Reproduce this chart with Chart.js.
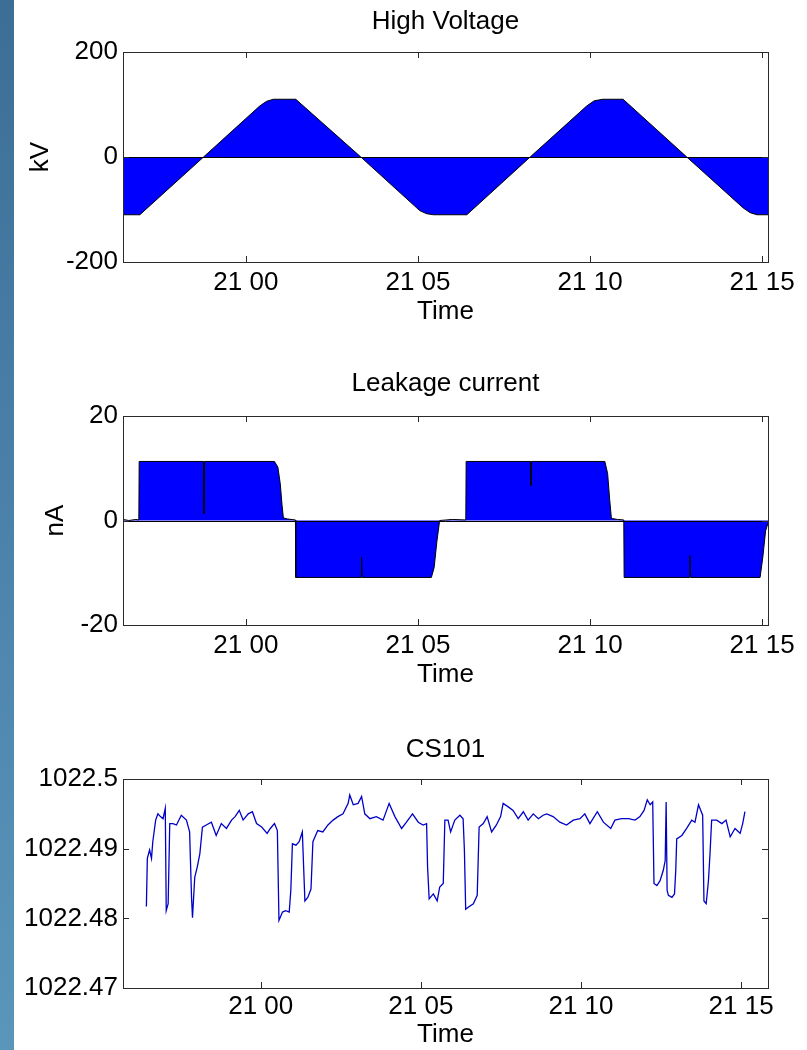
<!DOCTYPE html>
<html>
<head>
<meta charset="utf-8">
<script src="https://cdn.jsdelivr.net/npm/chart.js@4.4.1/dist/chart.umd.min.js"></script>
<style>
  html, body { margin: 0; padding: 0; background: #fff; }
  body { width: 807px; height: 1050px; position: relative; overflow: hidden; }
  .strip { position: absolute; left: 0; top: 0; width: 14px; height: 1050px; z-index: 2;
    background: linear-gradient(to bottom, #3d6e95 0%, #4a80a8 45%, #5a96ba 100%); }
  canvas { position: absolute; left: 0; }
</style>
</head>
<body>
<div class="strip"></div>
<canvas id="hv" width="807" height="340" style="top:0px"></canvas>
<canvas id="leak" width="807" height="360" style="top:340px"></canvas>
<canvas id="cs" width="807" height="350" style="top:700px"></canvas>
<script>
// time axis is minutes after 21:00
const xTickValues = [0, 5, 10, 15];
const xTickLabels = ["21 00", "21 05", "21 10", "21 15"];

// High Voltage (kV)
const hvTime = [-3.57, -3.08, -1.23, 0.40, 0.60, 0.80, 1.45, 3.34, 5.05, 5.25, 5.45, 6.42,
                8.26, 9.90, 10.12, 10.37, 10.96, 12.81, 14.45, 14.65, 14.85, 15.17];
const hvKV = [-110, -110, 0, 97, 106, 110, 110, 0, -102, -108, -110, -110,
              0, 97, 107, 110, 110, 0, -97, -106, -110, -110];
const hvTicks = [-200, 0, 200];

// Leakage current (nA)
const leakTime = [-3.57, -3.40, -3.20, -3.11, -3.10, -1.23, -1.22, -1.20, 0.83, 0.93,
                  1.00, 1.05, 1.09, 1.20, 1.44, 1.45, 3.35, 3.36, 3.38, 5.39,
                  5.47, 5.55, 5.63, 6.00, 6.39, 6.40, 8.27, 8.28, 8.30, 10.43,
                  10.51, 10.57, 10.62, 10.80, 10.98, 10.99, 12.89, 12.90, 12.92, 14.94,
                  15.02, 15.10, 15.17];
const leakNA = [0.2, 0.0, 0.2, 0.1, 11.3, 11.3, 1.3, 11.3, 11.3, 10.2,
                7.0, 3.0, 0.5, 0.3, 0.1, -10.9, -10.9, -7.0, -10.9, -10.9,
                -9.0, -4.0, 0.0, 0.2, 0.1, 11.3, 11.3, 6.7, 11.3, 11.3,
                9.0, 4.0, 0.4, 0.2, 0.1, -10.9, -10.9, -6.7, -10.9, -10.9,
                -7.0, -2.0, -0.5];
const leakTicks = [-20, 0, 20];

// CS101
const csTime = [
  -3.57, -3.54, -3.47, -3.41, -3.37, -3.28, -3.21, -3.13, -3.05, -2.98,
  -2.95, -2.89, -2.84, -2.74, -2.63, -2.48, -2.32, -2.22, -2.16, -2.13,
  -2.06, -1.98, -1.90, -1.82, -1.70, -1.54, -1.39, -1.23, -1.07, -0.91,
  -0.80, -0.67, -0.55, -0.39, -0.26, -0.13, 0.03, 0.20, 0.30, 0.43,
  0.52, 0.57, 0.68, 0.78, 0.89, 0.94, 0.99, 1.10, 1.20, 1.30,
  1.34, 1.38, 1.47, 1.57, 1.63, 1.78, 1.94, 2.10, 2.26, 2.41,
  2.57, 2.73, 2.78, 2.89, 3.04, 3.15, 3.25, 3.41, 3.61, 3.82,
  4.01, 4.19, 4.40, 4.55, 4.74, 4.92, 5.07, 5.18, 5.21, 5.26,
  5.39, 5.51, 5.59, 5.70, 5.75, 5.85, 5.93, 6.06, 6.22, 6.32,
  6.36, 6.40, 6.48, 6.64, 6.76, 6.82, 6.95, 7.07, 7.21, 7.36,
  7.49, 7.57, 7.73, 7.88, 8.04, 8.20, 8.35, 8.51, 8.67, 8.82,
  8.93, 9.13, 9.34, 9.55, 9.76, 9.97, 10.12, 10.28, 10.51, 10.70,
  10.93, 11.06, 11.27, 11.48, 11.69, 11.84, 11.97, 12.07, 12.16, 12.24,
  12.28, 12.37, 12.47, 12.57, 12.63, 12.66, 12.69, 12.73, 12.84, 12.92,
  12.96, 12.99, 13.15, 13.30, 13.46, 13.56, 13.67, 13.80, 13.84, 13.91,
  13.98, 14.03, 14.08, 14.24, 14.40, 14.53, 14.66, 14.81, 14.97, 15.05,
  15.12
];
const csValue = [
  1022.4817, 1022.4886, 1022.4898, 1022.4886, 1022.4910, 1022.4941, 1022.4950, 1022.4946, 1022.4943, 1022.4958,
  1022.4811, 1022.4821, 1022.4936, 1022.4936, 1022.4934, 1022.4948, 1022.4941, 1022.4924, 1022.4830, 1022.4801,
  1022.4859, 1022.4874, 1022.4893, 1022.4931, 1022.4934, 1022.4938, 1022.4919, 1022.4936, 1022.4929, 1022.4941,
  1022.4946, 1022.4955, 1022.4941, 1022.4950, 1022.4953, 1022.4936, 1022.4931, 1022.4922, 1022.4929, 1022.4936,
  1022.4926, 1022.4797, 1022.4809, 1022.4811, 1022.4809, 1022.4840, 1022.4907, 1022.4905, 1022.4910, 1022.4924,
  1022.4874, 1022.4825, 1022.4830, 1022.4842, 1022.4910, 1022.4926, 1022.4924, 1022.4934, 1022.4941, 1022.4946,
  1022.4950, 1022.4965, 1022.4977, 1022.4963, 1022.4965, 1022.4975, 1022.4950, 1022.4943, 1022.4946, 1022.4941,
  1022.4965, 1022.4946, 1022.4929, 1022.4938, 1022.4950, 1022.4938, 1022.4934, 1022.4936, 1022.4874, 1022.4828,
  1022.4835, 1022.4825, 1022.4845, 1022.4850, 1022.4941, 1022.4941, 1022.4924, 1022.4941, 1022.4948, 1022.4943,
  1022.4898, 1022.4813, 1022.4816, 1022.4821, 1022.4833, 1022.4931, 1022.4936, 1022.4946, 1022.4924, 1022.4934,
  1022.4946, 1022.4965, 1022.4960, 1022.4955, 1022.4943, 1022.4953, 1022.4941, 1022.4950, 1022.4943, 1022.4948,
  1022.4950, 1022.4946, 1022.4938, 1022.4934, 1022.4941, 1022.4943, 1022.4950, 1022.4936, 1022.4953, 1022.4938,
  1022.4929, 1022.4941, 1022.4943, 1022.4943, 1022.4941, 1022.4946, 1022.4955, 1022.4970, 1022.4963, 1022.4967,
  1022.4850, 1022.4847, 1022.4854, 1022.4869, 1022.4883, 1022.4967, 1022.4840, 1022.4833, 1022.4830, 1022.4835,
  1022.4869, 1022.4914, 1022.4919, 1022.4929, 1022.4941, 1022.4938, 1022.4963, 1022.4948, 1022.4825, 1022.4821,
  1022.4854, 1022.4893, 1022.4941, 1022.4941, 1022.4936, 1022.4941, 1022.4917, 1022.4929, 1022.4922, 1022.4936,
  1022.4953
];
const csTicks = [1022.47, 1022.48, 1022.49, 1022.5];
const csTickLabels = ["1022.47", "1022.48", "1022.49", "1022.5"];

const FONT = "'Liberation Sans', Arial, sans-serif";
const FS = 26;

// matlab style box: frame, inward ticks on all sides, area baseline
const matlabBox = {
  id: "matlabBox",
  afterDatasetsDraw(chart, args, opts) {
    const { ctx, chartArea: a, scales: { x, y } } = chart;
    ctx.save();
    ctx.lineWidth = 1;
    ctx.strokeStyle = "#000";
    if (opts.baseline) {
      const py = Math.round(y.getPixelForValue(0)) + 0.5;
      ctx.beginPath();
      ctx.moveTo(a.left, py);
      ctx.lineTo(a.right, py);
      ctx.stroke();
    }
    ctx.strokeStyle = "#2a2a2a";
    ctx.strokeRect(Math.round(a.left) + 0.5, Math.round(a.top) + 0.5, Math.round(a.width), Math.round(a.height));
    const len = 6;
    ctx.beginPath();
    x.ticks.forEach(t => {
      const px = Math.round(x.getPixelForValue(t.value)) + 0.5;
      ctx.moveTo(px, a.top); ctx.lineTo(px, a.top + len);
      ctx.moveTo(px, a.bottom); ctx.lineTo(px, a.bottom - len);
    });
    y.ticks.forEach(t => {
      const py = Math.round(y.getPixelForValue(t.value)) + 0.5;
      ctx.moveTo(a.left, py); ctx.lineTo(a.left + len, py);
      ctx.moveTo(a.right, py); ctx.lineTo(a.right - len, py);
    });
    ctx.stroke();
    ctx.restore();
  }
};

function makeChart(id, o) {
  const points = o.xs.map((t, i) => ({ x: t, y: o.ys[i] }));
  return new Chart(document.getElementById(id), {
    type: "line",
    data: {
      datasets: [{
        data: points,
        borderColor: o.line,
        borderWidth: o.lineWidth || 1,
        backgroundColor: o.fill || "transparent",
        fill: o.fill ? "origin" : false,
        pointRadius: 0,
        tension: 0
      }]
    },
    options: {
      responsive: false,
      animation: false,
      events: [],
      layout: { padding: { left: 0, right: 39, top: 0, bottom: 0 } },
      plugins: {
        legend: { display: false },
        tooltip: { enabled: false },
        title: {
          display: true, text: o.title, color: "#000", fullSize: false,
          font: { family: FONT, size: FS, weight: "normal" },
          padding: o.titlePad
        },
        matlabBox: { baseline: !!o.fill }
      },
      scales: {
        x: {
          type: "linear", min: o.xMin, max: o.xMax,
          afterBuildTicks: s => { s.ticks = xTickValues.map(v => ({ value: v })); },
          afterFit: s => { s.height = o.xHeight; },
          grid: { display: false, drawTicks: false },
          border: { display: false },
          ticks: {
            color: "#000", padding: o.xTickPad, maxRotation: 0,
            font: { family: FONT, size: FS },
            callback: v => xTickLabels[xTickValues.indexOf(v)]
          },
          title: {
            display: true, text: "Time", color: "#000",
            font: { family: FONT, size: FS },
            padding: { top: 0, bottom: o.xTitlePad }
          }
        },
        y: {
          type: "linear", min: o.yMin, max: o.yMax,
          afterBuildTicks: s => { s.ticks = o.yTicks.map(v => ({ value: v })); },
          afterFit: s => { s.width = 123; },
          grid: { display: false, drawTicks: false },
          border: { display: false },
          ticks: {
            color: "#000", padding: 5,
            font: { family: FONT, size: FS },
            callback: (v, i) => o.yLabels ? o.yLabels[i] : String(v)
          },
          title: o.yTitle ? {
            display: true, text: o.yTitle, color: "#000",
            font: { family: FONT, size: FS },
            padding: { top: o.yTitlePad, bottom: 0 }
          } : { display: false }
        }
      }
    },
    plugins: [matlabBox]
  });
}

makeChart("hv", {
  xs: hvTime, ys: hvKV, line: "#000", fill: "#0000ff",
  title: "High Voltage", titlePad: { top: 6.4, bottom: 14.4 },
  xMin: -3.57, xMax: 15.17, xHeight: 78, xTickPad: 5.4, xTitlePad: 12.4,
  yMin: -200, yMax: 200, yTicks: hvTicks, yTitle: "kV", yTitlePad: 25.4
});

makeChart("leak", {
  xs: leakTime, ys: leakNA, line: "#000", fill: "#0000ff",
  title: "Leakage current", titlePad: { top: 28.4, bottom: 16.4 },
  xMin: -3.57, xMax: 15.17, xHeight: 75, xTickPad: 5.4, xTitlePad: 9.4,
  yMin: -20, yMax: 20, yTicks: leakTicks, yTitle: "nA", yTitlePad: 39.9
});

makeChart("cs", {
  xs: csTime, ys: csValue, line: "#0000c8", lineWidth: 1.3,
  title: "CS101", titlePad: { top: 34.4, bottom: 13.4 },
  xMin: -4.30, xMax: 15.84, xHeight: 62, xTickPad: 3.4, xTitlePad: 0,
  yMin: 1022.47, yMax: 1022.5, yTicks: csTicks, yLabels: csTickLabels
});
</script>
</body>
</html>
